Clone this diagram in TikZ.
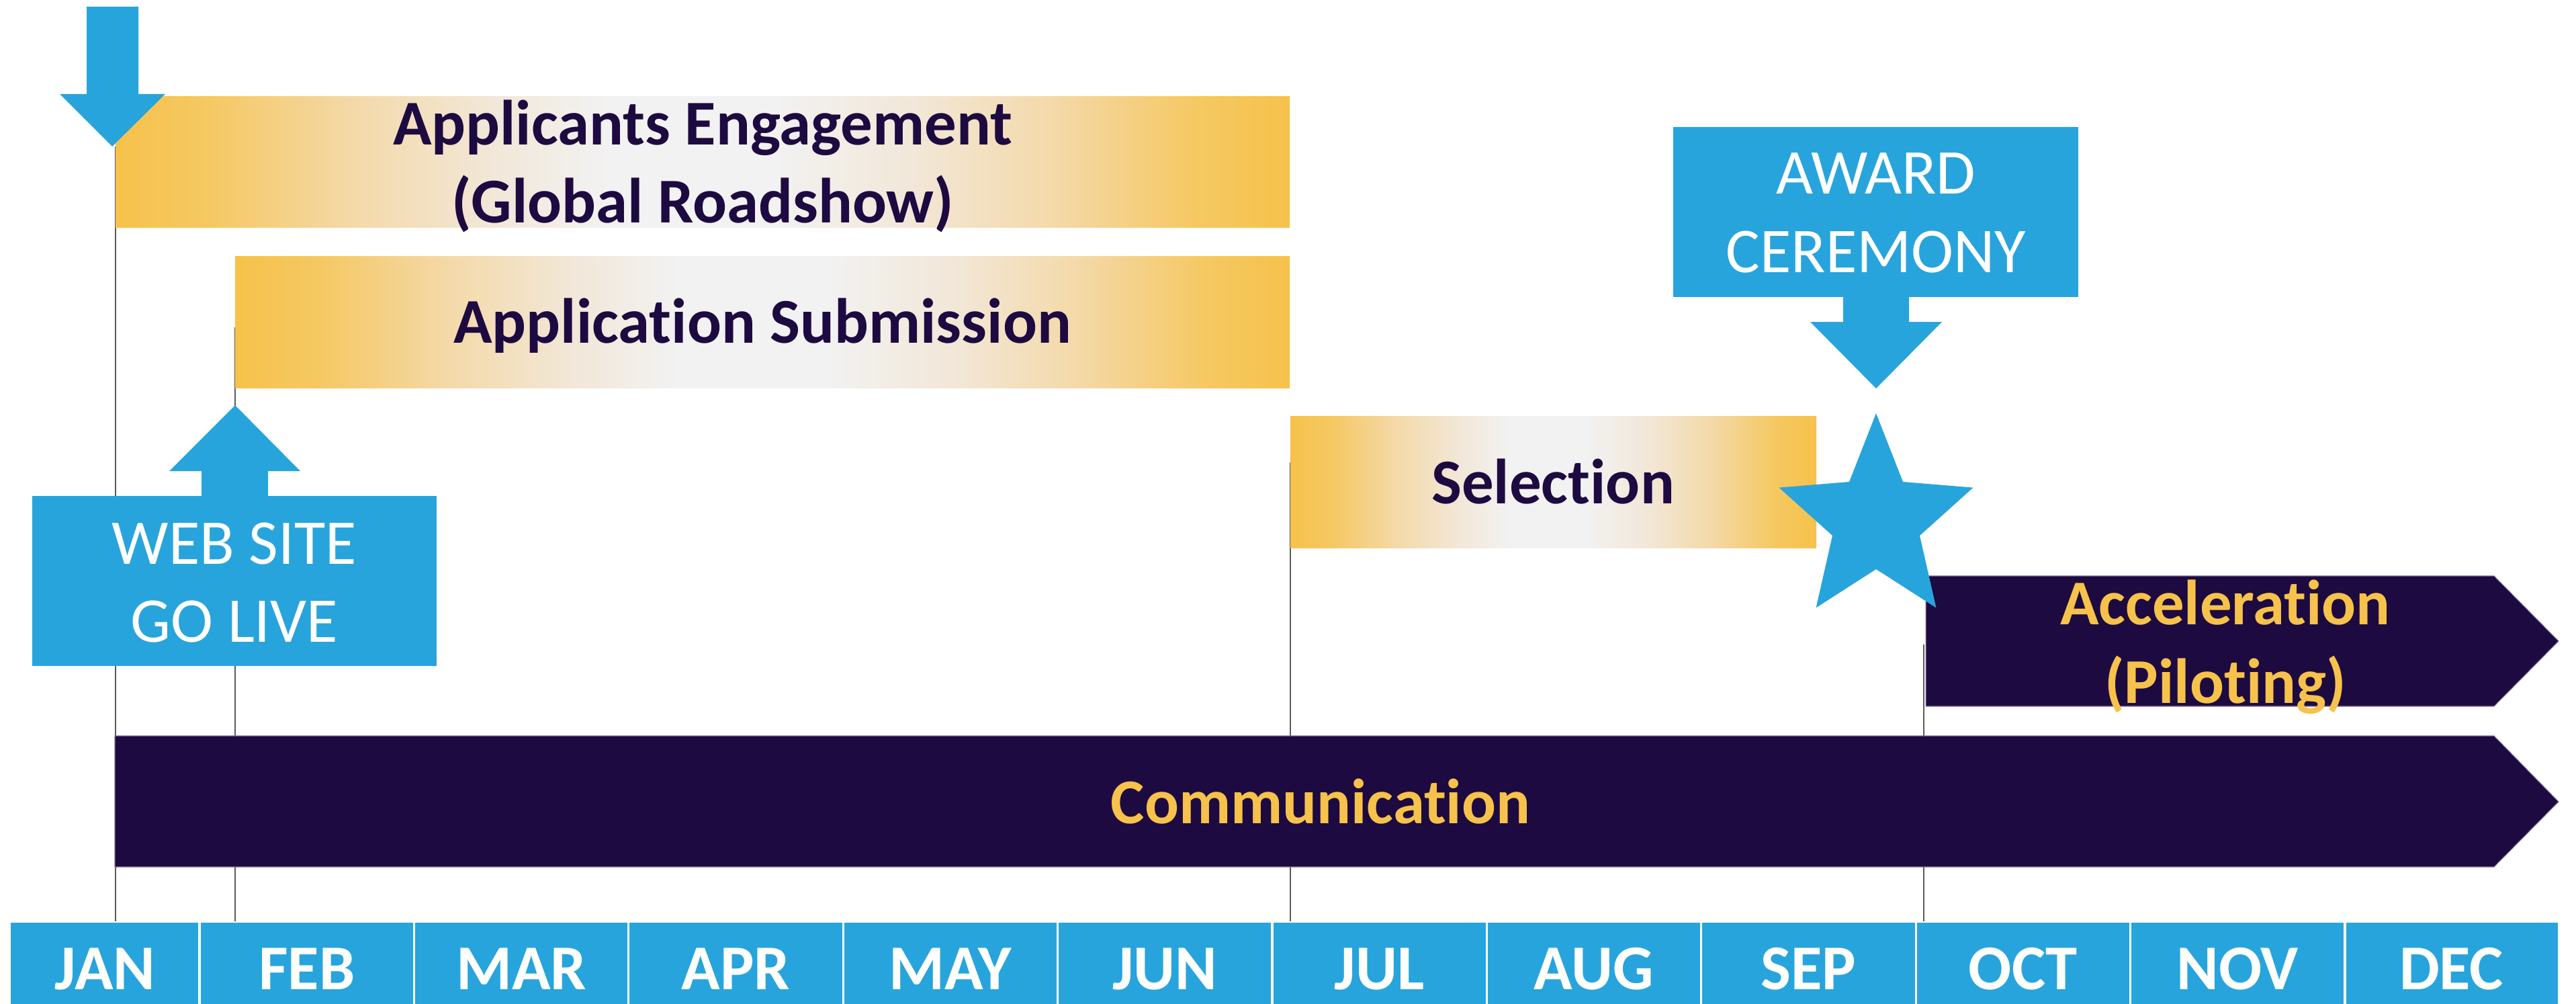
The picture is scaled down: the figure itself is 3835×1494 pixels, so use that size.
\documentclass[tikz,border=0pt]{standalone}
\usepackage{fontspec}
\setmainfont{Carlito}[Ligatures={NoCommon,NoContextual},Contextuals=NoAlternate]
\definecolor{navy}{HTML}{1D0A40}
\definecolor{sky}{HTML}{28A4DC}
\definecolor{gold}{HTML}{F6C24B}
\definecolor{goldb}{HTML}{F5C862}
\definecolor{peach}{HTML}{F4D9A8}
\definecolor{cream}{HTML}{F2E7D8}
\definecolor{pale}{HTML}{F2F2F2}
\definecolor{vgrey}{HTML}{5A5A5A}
\pgfdeclarehorizontalshading{goldfade}{100bp}{color(0bp)=(gold); color(25bp)=(gold);
  color(29bp)=(goldb); color(35bp)=(peach); color(41bp)=(cream); color(46bp)=(pale);
  color(53bp)=(pale); color(59bp)=(cream); color(65bp)=(peach); color(71bp)=(goldb);
  color(75bp)=(gold); color(100bp)=(gold)}
\begin{document}
\begin{tikzpicture}[x=0.01cm,y=-0.01cm,
  vline/.style={draw=vgrey, line width=0.6pt},
  goldbar/.style={shading=goldfade},
  darkbar/.style={fill=navy, draw=navy!55!white, line width=0.3pt},
  lbl/.style={anchor=base, inner sep=0pt, font=\bfseries\fontsize{27}{33}\selectfont},
  darklbl/.style={lbl, text=navy},
  goldlbl/.style={lbl, text=gold},
  whitelbl/.style={anchor=base, inner sep=0pt, text=white, font=\fontsize{27}{33}\selectfont},
  monthlbl/.style={lbl, text=white}]
\useasboundingbox (0,0) rectangle (3835,1494);

% vertical guide lines
\coordinate (janT) at (172,218);  \coordinate (janB) at (172,1371);
\coordinate (febT) at (350,487);  \coordinate (febB) at (350,1371);
\coordinate (julT) at (1921,688); \coordinate (julB) at (1921,1371);
\coordinate (octT) at (2864,959); \coordinate (octB) at (2864,1371);
\draw[vline] (janT) -- (janB);
\draw[vline] (febT) -- (febB);
\draw[vline] (julT) -- (julB);
\draw[vline] (octT) -- (octB);

% gradient bars
\shade[goldbar] (172,144) rectangle (1920,339);
\shade[goldbar] (350,381) rectangle (1920,577);
\shade[goldbar] (1921,619) rectangle (2704,815);

\node[darklbl] (eng1) at (1046,216) {Applicants Engagement};
\node[darklbl] (eng2) at (1046,331) {(Global Roadshow)};
\node[darklbl] (app) at (1135,510) {Application Submission};
\node[darklbl] (sel) at (2312,749) {Selection};

% dark arrow bars
\path[darkbar] (2867,857) -- (3713,857) -- (3809,954) -- (3713,1051) -- (2867,1051) -- cycle;
\path[darkbar] (171,1095) -- (3713,1095) -- (3809,1193) -- (3713,1290) -- (171,1290) -- cycle;
\node[goldlbl] (acc1) at (3313,929) {Acceleration};
\node[goldlbl] (acc2) at (3313,1046) {(Piloting)};
\node[goldlbl] (comm) at (1966,1225) {Communication};

% top-left down arrow
\fill[sky] (129,10) -- (206,10) -- (206,140) -- (246,140) -- (167,218) -- (89,140) -- (129,140) -- cycle;

% web site box with up arrow
\fill[sky] (300,739) -- (300,701) -- (252,701) -- (350,603) -- (447,701) -- (399,701) -- (399,739) -- cycle;
\fill[sky] (48,738) rectangle (650,991);
\node[whitelbl] (web1) at (349,839) {WEB SITE};
\node[whitelbl] (web2) at (349,955) {GO LIVE};

% award box with down arrow
\fill[sky] (2491,189) rectangle (3094,442);
\fill[sky] (2744,441) -- (2842,441) -- (2842,479) -- (2891,479) -- (2793,578) -- (2695,479) -- (2744,479) -- cycle;
\node[whitelbl] (aw1) at (2793,289) {AWARD};
\node[whitelbl] (aw2) at (2793,405) {CEREMONY};

% star
\fill[sky] (2793,615) -- (2833,717) -- (2937.5,725.6) -- (2858,797) -- (2882.4,904.4)
  -- (2793,847) -- (2703.6,904.4) -- (2728,797) -- (2648.5,725.6) -- (2753,717) -- cycle;

% months
\foreach \i/\lab/\l/\r in {1/JAN/16/297, 2/FEB/297/616.4, 3/MAR/616.4/935.8,
  4/APR/935.8/1255.2, 5/MAY/1255.2/1574.6, 6/JUN/1574.6/1894, 7/JUL/1894/2213.4,
  8/AUG/2213.4/2532.8, 9/SEP/2532.8/2852.2, 10/OCT/2852.2/3171.6,
  11/NOV/3171.6/3491, 12/DEC/3491/3808} {
  \fill[sky] (\l,1373) rectangle (\r,1494);
  \node[monthlbl] (m\i) at ({(\l+\r)/2},1472) {\lab};
}
\foreach \d in {297,616.4,935.8,1255.2,1574.6,1894,2213.4,2532.8,2852.2,3171.6,3491}
  \draw[white, line width=0.9pt] (\d,1373) -- (\d,1494);
\end{tikzpicture}
\end{document}
